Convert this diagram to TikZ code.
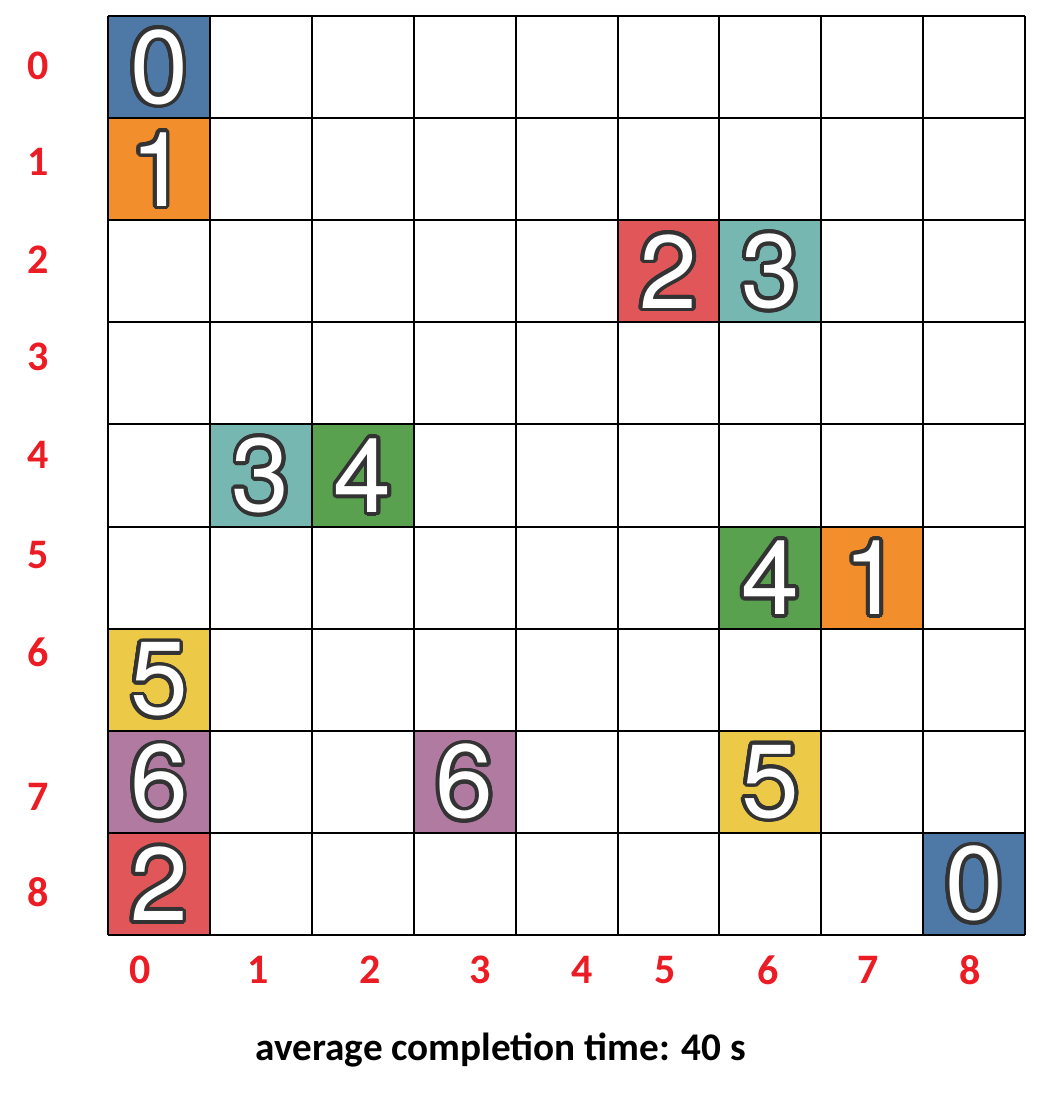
\documentclass[tikz,border=0pt]{standalone}
\usepackage{fontspec}
\setmainfont{Carlito}
\newfontfamily\digitfont{TeX Gyre Heros}
\definecolor{tblue}{HTML}{4E79A7}
\definecolor{torange}{HTML}{F28E2B}
\definecolor{tred}{HTML}{E15759}
\definecolor{tteal}{HTML}{76B7B2}
\definecolor{tgreen}{HTML}{59A14F}
\definecolor{tyellow}{HTML}{EDC948}
\definecolor{tpurple}{HTML}{B07AA1}
\definecolor{outl}{HTML}{333333}
\definecolor{lblred}{HTML}{EC1C24}
\tikzset{
  gridline/.style={line width=1pt, black},
  digitstyle/.style={inner sep=0pt, font=\digitfont\fontsize{52}{52}\selectfont},
  lbl/.style={text=lblred, font=\bfseries\fontsize{21}{21}\selectfont, inner sep=0pt},
  caption/.style={font=\bfseries\fontsize{19.6}{19.6}\selectfont, inner sep=0pt}
}
\begin{document}
\begin{tikzpicture}[x=0.5pt,y=-0.5pt]
\useasboundingbox (0,0) rectangle (1037,1112);
\def\gx{108}\def\gy{16}\def\cw{101.9}\def\ch{102.1}
% coloured cells with outlined digits
\foreach \r/\c/\d/\col in {0/0/0/tblue,1/0/1/torange,2/5/2/tred,2/6/3/tteal,4/1/3/tteal,4/2/4/tgreen,5/6/4/tgreen,5/7/1/torange,6/0/5/tyellow,7/0/6/tpurple,7/3/6/tpurple,7/6/5/tyellow,8/0/2/tred,8/8/0/tblue}{
  \fill[\col] ({\gx+\c*\cw},{\gy+\r*\ch}) rectangle ++(\cw,\ch);
  \coordinate (cell-\r-\c) at ({\gx+(\c+0.5)*\cw},{\gy+(\r+0.5)*\ch});
  \foreach \a in {0,15,...,345}
    \node[digitstyle, text=outl] at ([shift={(\a:1.9pt)}]cell-\r-\c) {\d};
  \node[digitstyle, text=white] (dig-\r-\c) at (cell-\r-\c) {\d};
}
% grid
\foreach \i in {0,...,9}{
  \draw[gridline] ({\gx+\i*\cw},\gy) -- ({\gx+\i*\cw},{\gy+9*\ch});
  \draw[gridline] (\gx,{\gy+\i*\ch}) -- ({\gx+9*\cw},{\gy+\i*\ch});
}
% row labels
\foreach \t/\yy in {0/66,1/162,2/260,3/357,4/455,5/555,6/652,7/797,8/892}
  \node[lbl] (row-\t) at (38,\yy) {\t};
% column labels
\foreach \t/\xx in {0/140,1/258,2/370,3/480,4/582,5/665,6/768,7/868,8/970}
  \node[lbl] (col-\t) at (\xx,970) {\t};
\node[caption] (cap) at (501,1050) {average completion time: 40 s};
\end{tikzpicture}
\end{document}
